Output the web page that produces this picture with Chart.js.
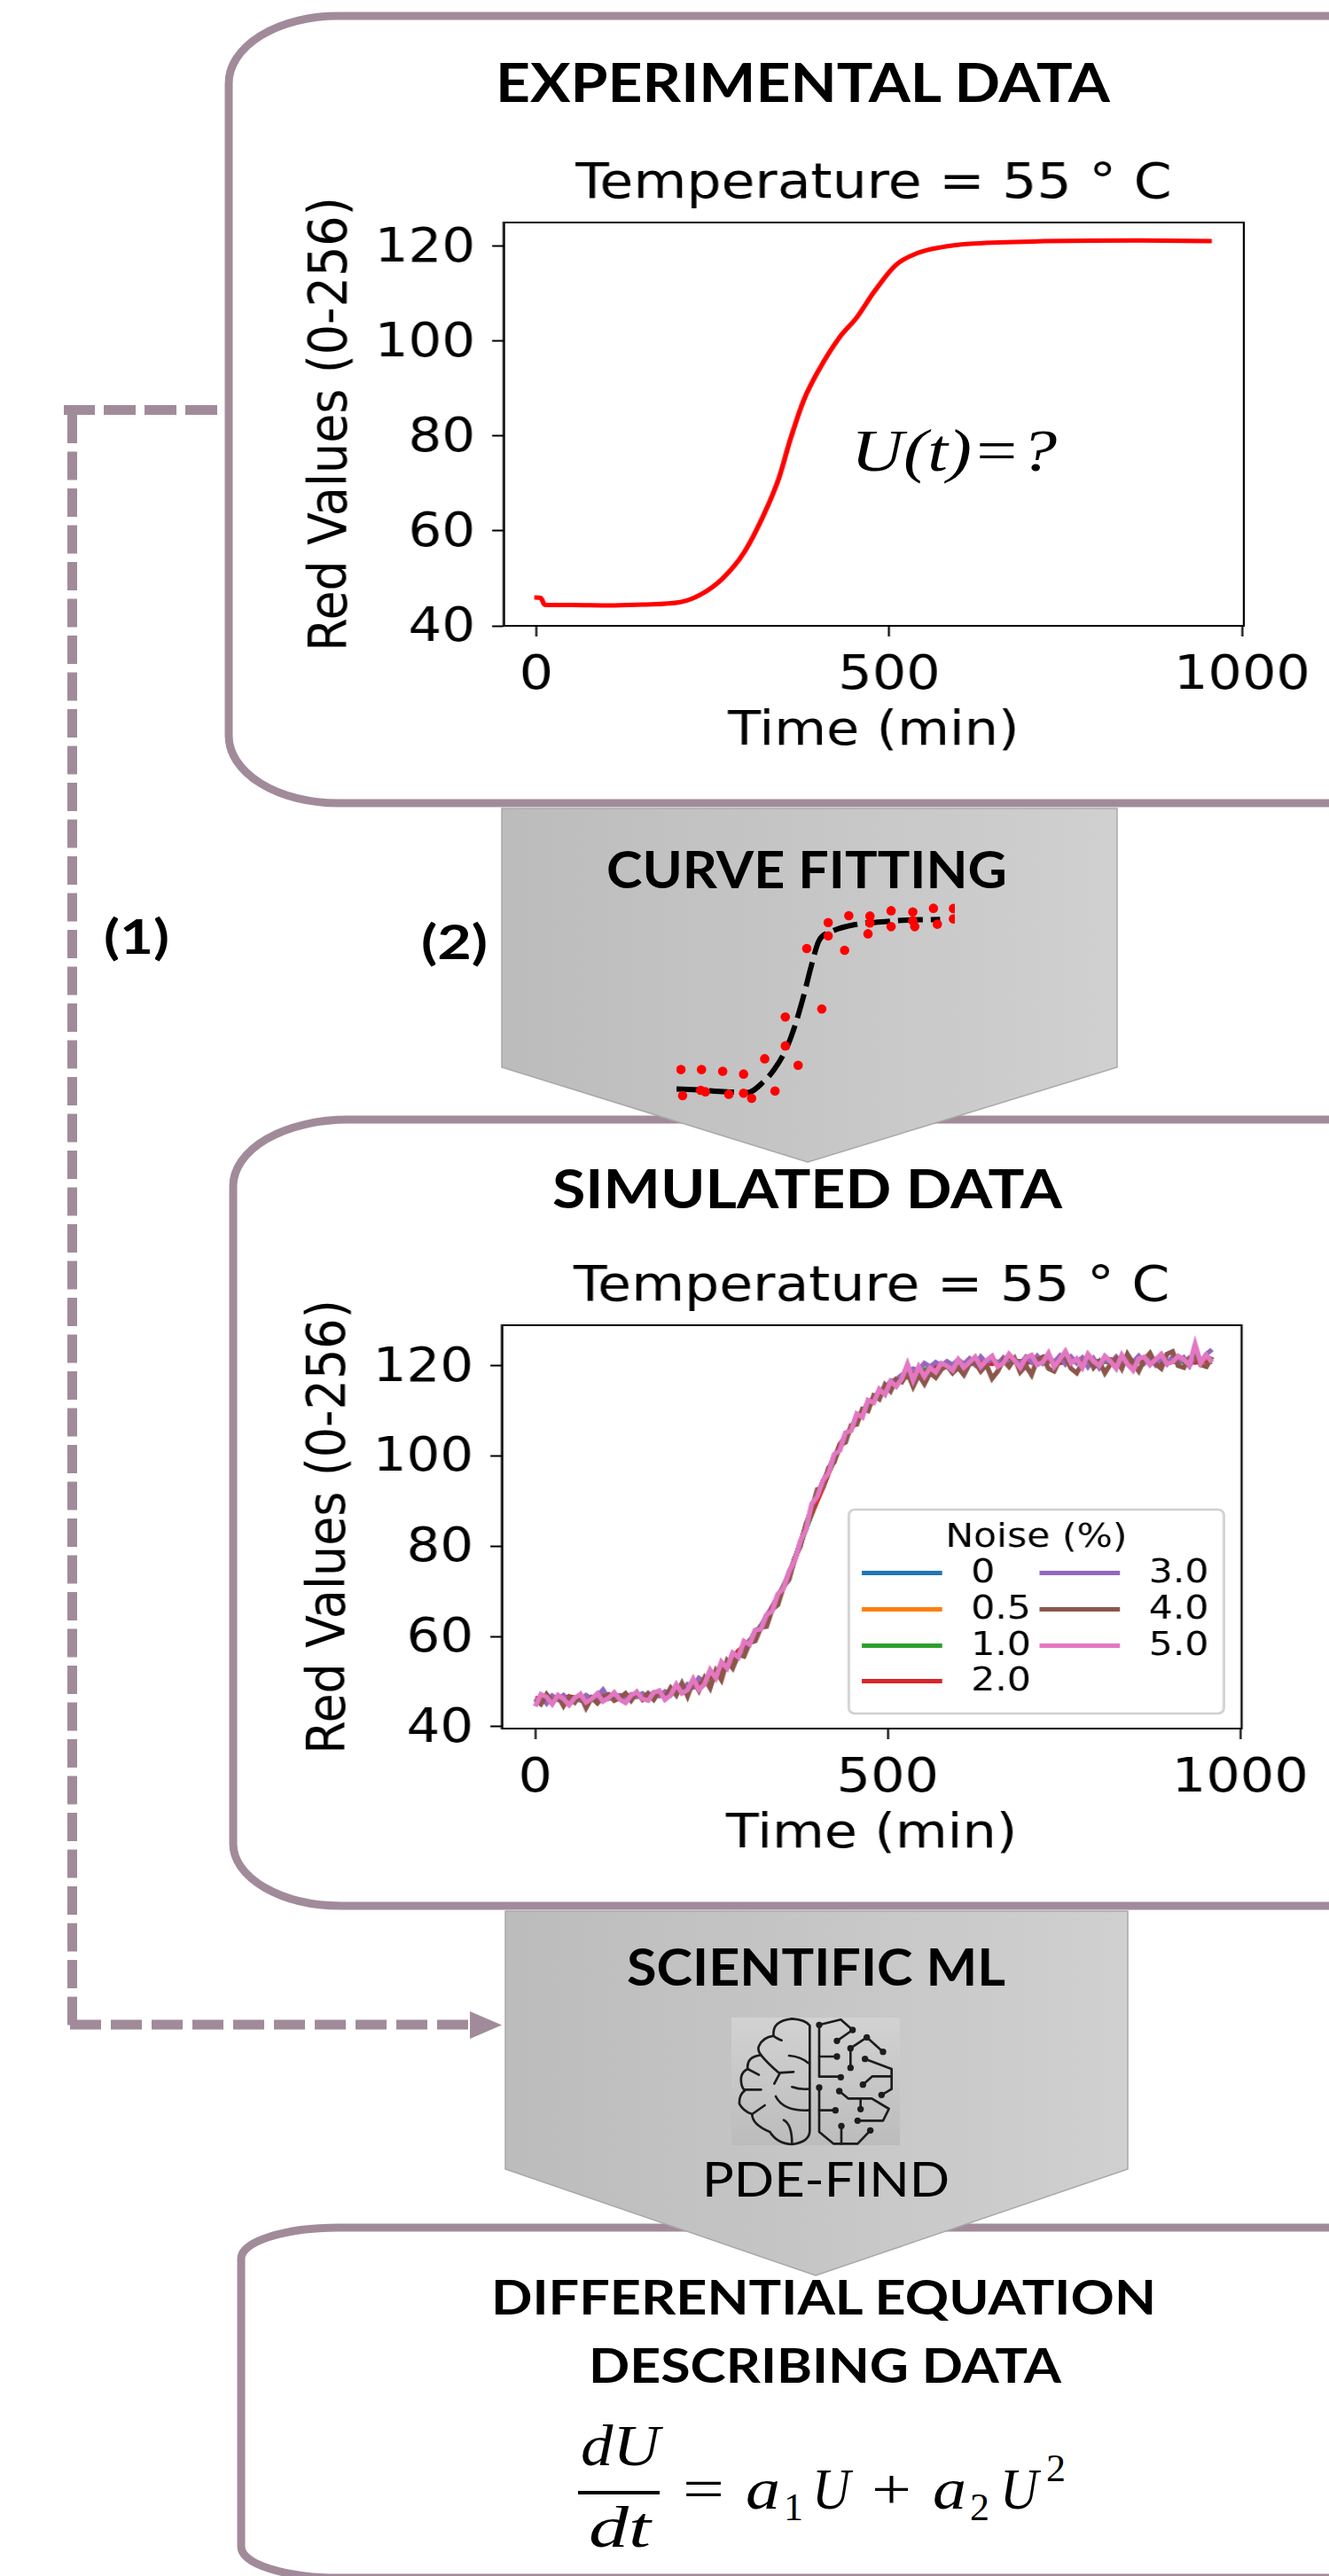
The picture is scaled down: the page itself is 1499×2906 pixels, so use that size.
<!DOCTYPE html>
<html>
<head>
<meta charset="utf-8">
<title>Workflow</title>
<script src="https://cdn.jsdelivr.net/npm/chart.js@4"></script>
<style>
  html, body { margin: 0; padding: 0; background: #fff; }
  #page { position: relative; width: 1499px; height: 2906px; overflow: hidden; }
  #page svg { position: absolute; left: 0; top: 0; }
  #page canvas { position: absolute; }
  /* the source figure is stretched sideways, so the two plots are too */
  .wide { transform: scaleX(1.12); transform-origin: 0 0; }
  .head { font-family: Lato, sans-serif; font-weight: 700; fill: #000; }
  .math { font-family: "Liberation Serif", serif; font-style: italic; fill: #000; }
</style>
</head>
<body>
<div id="page">
<svg width="1499" height="2906" viewBox="0 0 1499 2906">
  <defs>
    <linearGradient id="grey" x1="0" x2="1" y1="0" y2="0">
      <stop offset="0" stop-color="#bcbcbc"/><stop offset="1" stop-color="#d0d0d0"/>
    </linearGradient>
    <linearGradient id="iconBg" x1="0" x2="0" y1="0" y2="1">
      <stop offset="0" stop-color="#d2d2d2"/><stop offset="1" stop-color="#bcbcbc"/>
    </linearGradient>
  </defs>

  <!-- rounded boxes, right side runs off the page -->
  <g fill="#fff" stroke="#a18b9a" stroke-width="9">
    <path d="M1600 18 H381 A123 76 0 0 0 258 94 V830 A123 76 0 0 0 381 906 H1600"/>
    <path d="M1600 1263 H392 A129 75 0 0 0 263 1338 V2080 A122 70 0 0 0 385 2150 H1600"/>
    <path d="M1600 2513 H382 A110 35 0 0 0 272 2548 V2873 A110 35 0 0 0 382 2908 H1600"/>
  </g>

  <!-- dashed link (1) -->
  <g fill="none" stroke="#a18b9a" stroke-width="11">
    <path d="M245 462.5 H72" stroke-dasharray="36 10"/>
    <path d="M81.5 468 V2285" stroke-dasharray="32 9.5"/>
    <path d="M79 2284 H530" stroke-dasharray="35 11"/>
  </g>
  <path d="M530 2269 L566 2284.5 L530 2300 Z" fill="#a18b9a"/>

  <!-- process arrows -->
  <path d="M566 912 H1260 V1204 L911 1311 L566 1204 Z" fill="url(#grey)" stroke="#a8a8a8" stroke-width="1.5"/>
  <path d="M570 2156 H1272 V2447 L920 2567 L570 2447 Z" fill="url(#grey)" stroke="#a8a8a8" stroke-width="1.5"/>

  <!-- headings -->
  <text class="head" x="559" y="115" font-size="62" textLength="693" lengthAdjust="spacingAndGlyphs">EXPERIMENTAL DATA</text>
  <text class="head" x="684" y="1002" font-size="58" textLength="452" lengthAdjust="spacingAndGlyphs">CURVE FITTING</text>
  <text class="head" x="623" y="1363" font-size="62" textLength="575" lengthAdjust="spacingAndGlyphs">SIMULATED DATA</text>
  <text class="head" x="707" y="2240" font-size="57" textLength="427" lengthAdjust="spacingAndGlyphs">SCIENTIFIC ML</text>
  <text class="head" x="554" y="2611" font-size="54" textLength="750" lengthAdjust="spacingAndGlyphs">DIFFERENTIAL EQUATION</text>
  <text class="head" x="664" y="2688" font-size="54" textLength="533" lengthAdjust="spacingAndGlyphs">DESCRIBING DATA</text>
  <text class="head" x="117" y="1076" font-size="54" textLength="74" lengthAdjust="spacingAndGlyphs">(1)</text>
  <text class="head" x="475" y="1082" font-size="54" textLength="75" lengthAdjust="spacingAndGlyphs">(2)</text>
  <text x="792" y="2478" font-family="Lato, sans-serif" font-size="54" fill="#000" textLength="279" lengthAdjust="spacingAndGlyphs">PDE-FIND</text>

  <text class="math" x="960" y="531" font-size="68" textLength="232" lengthAdjust="spacingAndGlyphs">U(t)=?</text>

  <!-- brain icon, drawn in 3x crop units -->
  <g transform="translate(780 2240) scale(0.3333)">
    <rect x="135" y="108" width="570" height="432" fill="url(#iconBg)"/>
    <g fill="none" stroke="#1c1c1c" stroke-width="8" stroke-linecap="round" stroke-linejoin="round">
      <path d="M400 135 L400 490 Q400 530 340 537 Q290 535 265 495 Q205 470 205 435 Q175 425 162 400 Q160 370 180 355 Q165 340 168 310 Q172 290 190 282 Q185 240 235 235 Q222 220 228 205 Q240 175 278 170 Q270 120 340 112 Q385 115 400 135"/>
      <path d="M278 170 Q285 178 305 185"/><path d="M235 235 Q255 260 295 295 L345 292"/><path d="M298 298 L280 332"/>
      <path d="M190 282 L228 302"/><path d="M180 352 L235 352"/><path d="M205 435 L248 405"/>
      <path d="M330 237 Q370 240 395 262"/><path d="M340 343 Q365 352 395 350"/><path d="M285 375 Q310 425 395 422"/><path d="M312 455 Q340 470 340 535"/>
      <path d="M432 133 L505 115 L545 150 L492 187"/><path d="M432 133 L432 308 L505 308"/><path d="M432 240 L492 240"/>
      <path d="M538 212 L538 278"/><path d="M538 212 L593 175 L648 224"/>
      <path d="M587 248 L677 282 L677 350 L643 370"/><path d="M677 307 L612 307 L580 335"/>
      <path d="M432 345 L432 495 L480 535 L562 535 L605 490"/><path d="M432 422 L487 422"/><path d="M507 475 L507 535"/>
      <path d="M500 357 L530 382 L610 382 L668 417 L648 457 L562 457"/><path d="M572 382 L572 418"/>
    </g>
    <g fill="#1c1c1c">
      <circle cx="432" cy="133" r="11"/><circle cx="545" cy="150" r="11"/><circle cx="492" cy="187" r="11"/>
      <circle cx="492" cy="240" r="11"/><circle cx="505" cy="310" r="11"/><circle cx="538" cy="212" r="11"/>
      <circle cx="538" cy="278" r="11"/><circle cx="593" cy="175" r="11"/><circle cx="648" cy="224" r="11"/>
      <circle cx="587" cy="248" r="11"/><circle cx="643" cy="370" r="11"/><circle cx="580" cy="335" r="11"/>
      <circle cx="432" cy="345" r="11"/><circle cx="605" cy="490" r="11"/><circle cx="487" cy="422" r="11"/>
      <circle cx="507" cy="475" r="11"/><circle cx="500" cy="357" r="11"/><circle cx="562" cy="457" r="11"/>
      <circle cx="572" cy="418" r="11"/>
    </g>
  </g>

  <!-- equation -->
  <text class="math" x="655" y="2781" font-size="66" textLength="89" lengthAdjust="spacingAndGlyphs">dU</text>
  <rect x="652" y="2810" width="92" height="4" fill="#000"/>
  <text class="math" x="664" y="2873" font-size="66" textLength="70" lengthAdjust="spacingAndGlyphs">dt</text>
  <text x="770" y="2830" font-family="'Liberation Serif', serif" font-size="66" fill="#000" textLength="47" lengthAdjust="spacingAndGlyphs">=</text>
  <text class="math" x="841" y="2830" font-size="66" textLength="39" lengthAdjust="spacingAndGlyphs">a</text>
  <text x="884" y="2843" font-family="'Liberation Serif', serif" font-size="44" fill="#000">1</text>
  <text class="math" x="916" y="2830" font-size="66" textLength="43" lengthAdjust="spacingAndGlyphs">U</text>
  <text x="983" y="2830" font-family="'Liberation Serif', serif" font-size="66" fill="#000" textLength="45" lengthAdjust="spacingAndGlyphs">+</text>
  <text class="math" x="1052" y="2830" font-size="66" textLength="38" lengthAdjust="spacingAndGlyphs">a</text>
  <text x="1094" y="2843" font-family="'Liberation Serif', serif" font-size="44" fill="#000">2</text>
  <text class="math" x="1128" y="2830" font-size="66" textLength="43" lengthAdjust="spacingAndGlyphs">U</text>
  <text x="1180" y="2799" font-family="'Liberation Serif', serif" font-size="44" fill="#000">2</text>
</svg>

<canvas id="expChart" class="wide" width="1044" height="700" style="left:330px;top:160px"></canvas>
<canvas id="fitChart" width="314" height="230" style="left:763px;top:1015px"></canvas>
<canvas id="simChart" class="wide" width="1046" height="700" style="left:328px;top:1404px"></canvas>
</div>

<script>
/* ── Data ───────────────────────────────────────────────────────────────── */
const xTicks = [0, 500, 1000];
const yTicks = [40, 60, 80, 100, 120];

// experimental curve
const expTime = [-3, 6, 12, 50, 104, 150, 204, 234, 264, 294, 324, 344, 359, 379, 399, 429, 454, 479, 509, 539, 574, 614, 704, 854, 957];
const expRed  = [46, 45.9, 44.4, 44.4, 44.3, 44.5, 45, 46.7, 50, 55.4, 64, 71.3, 78.9, 87.6, 93.6, 100.7, 105, 110.5, 116, 118.5, 119.8, 120.5, 121, 121.2, 121.1];

// curve fitting sketch, in percent of the little plot
const fitX  = [0, 6.4, 18.1, 25.5, 31.4, 35.1, 39.4, 42.6, 45.7, 48.4, 51.1, 55.3, 64.9, 73.4, 80.9, 94.7];
const fitY  = [7.2, 6.8, 5.8, 5.4, 10.9, 16.7, 26.8, 38.4, 52.9, 67.4, 79.7, 84.1, 88, 89.1, 89.9, 90.3];
const dotsX = [1.6, 9, 16.6, 24.1, 31.7, 39.1, 39.1, 46.8, 54.5, 61.9, 69.5, 77.1, 84.9, 92.3, 99.5,
               2.2, 8.7, 10.4, 18.8, 24.1, 27, 35.4, 43.7, 52.2, 54.5, 60.4, 68.8, 69.5, 77.1, 84.9, 85.6, 93.7, 99.5];
const dotsY = [16.7, 16.7, 15.9, 14.5, 22, 28.3, 42.5, 76.1, 88.8, 92.2, 92, 94.6, 94, 95.8, 95.7,
               3.9, 6.5, 5.8, 4.6, 5.1, 2.6, 6.2, 18.8, 46.4, 82.3, 75.2, 83.3, 88.6, 86.8, 89.7, 86.8, 88, 90.6];

// simulated curves: the low-noise ones lie underneath, so a coarse read is enough
const coarseTime = [0, 24, 48, 72, 96, 120, 144, 168, 192, 216, 240, 264, 288, 312, 336, 360, 384, 408, 432, 456,
                    480, 504, 528, 552, 576, 600, 624, 648, 672, 696, 720, 744, 768, 792, 816, 840, 864, 888, 912, 936, 960];
const fineTime = [0, 8, 16, 24, 32, 40, 48, 56, 64, 72, 80, 88, 96, 104, 112, 120, 128, 136, 144, 152,
                  160, 168, 176, 184, 192, 200, 208, 216, 224, 232, 240, 248, 256, 264, 272, 280, 288, 296, 304, 312,
                  320, 328, 336, 344, 352, 360, 368, 376, 384, 392, 400, 408, 416, 424, 432, 440, 448, 456, 464, 472,
                  480, 488, 496, 504, 512, 520, 528, 536, 544, 552, 560, 568, 576, 584, 592, 600, 608, 616, 624, 632,
                  640, 648, 656, 664, 672, 680, 688, 696, 704, 712, 720, 728, 736, 744, 752, 760, 768, 776, 784, 792,
                  800, 808, 816, 824, 832, 840, 848, 856, 864, 872, 880, 888, 896, 904, 912, 920, 928, 936, 944, 952, 960];

const noise00 = [46, 46.2, 46.3, 46.4, 46.5, 46.6, 46.8, 47, 47.4, 48.3, 50, 52.8, 56.2, 60.5, 66, 73.7, 84, 93.5, 102, 108.2,
                 112.5, 115.7, 117.8, 119, 119.8, 120.3, 120.6, 120.8, 120.9, 121, 121, 121, 121, 121, 121, 121, 121, 121, 121, 121, 121];
const noise05 = [46.1, 46.1, 46.4, 46.3, 46.6, 46.5, 46.9, 47, 47.5, 48.2, 50.1, 52.7, 56.3, 60.4, 66.1, 73.6, 84.1, 93.4, 102.1, 108.1,
                 112.6, 115.6, 117.9, 118.9, 119.9, 120.2, 120.7, 120.7, 121, 120.9, 121.1, 120.9, 121.1, 121, 120.9, 121.1, 121, 120.9, 121.1, 121, 120.9];
const noise10 = [45.9, 46.3, 46.2, 46.6, 46.4, 46.8, 46.7, 47.2, 47.3, 48.5, 49.9, 52.9, 56, 60.7, 65.8, 73.9, 83.8, 93.7, 101.8, 108.4,
                 112.3, 115.9, 117.6, 119.2, 119.6, 120.5, 120.4, 121, 120.7, 121.2, 120.8, 121.2, 120.9, 121.1, 120.8, 121.2, 120.9, 121.1, 120.8, 121.2, 120.9];
const noise20 = [46.4, 45.8, 46.7, 46, 46.9, 46.2, 47.2, 46.7, 47.9, 48, 50.5, 52.4, 56.8, 60, 66.6, 73.2, 84.6, 93, 102.6, 107.8,
                 113, 115.2, 118.3, 118.6, 120.3, 119.9, 121.1, 120.4, 121.4, 120.6, 121.5, 120.6, 121.4, 120.7, 121.4, 120.6, 121.5, 120.6, 121.4, 120.7, 121.5];
const noise30 = [45.6, 46.8, 45.2, 46.9, 46, 47, 45.6, 46.4, 45.8, 47,
                 46.2, 46.8, 48.2, 46.2, 46.6, 47, 46.4, 47.2, 46.6, 47.4,
                 46.6, 47.6, 46.8, 47.8, 47, 48.6, 47.8, 49.4, 48.8, 50.8,
                 50, 52.2, 51.6, 54, 53.2, 56.2, 55.8, 58.4, 58.6, 61.4,
                 62, 64.8, 66.2, 69.2, 71, 74.2, 77.2, 80.8, 84.4, 88.6,
                 91.4, 94.4, 97, 100, 102, 104.8, 106, 109, 109.6, 112,
                 112.6, 114.6, 115, 116.6, 117, 118, 118.8, 119.4, 119, 120.6,
                 119.8, 120.8, 120, 121, 120.2, 121.4, 120.4, 121.6, 120.2, 122,
                 120.6, 121.6, 120.4, 121.8, 120.6, 121.4, 120.4, 122, 120.8, 122.2,
                 120.6, 122, 120.8, 122.2, 120.4, 122, 120.6, 121.8, 119.8, 121.6,
                 119.6, 121.6, 120.6, 122, 120.6, 122, 120.8, 122.2, 120.6, 122,
                 120.2, 121.8, 120.4, 122, 120.6, 121.8, 120, 122.2, 120.8, 122.6,
                 123.6];
const noise40 = [46, 45, 47.2, 45.6, 46.8, 44.6, 46.6, 45.4, 47, 44.2,
                 46.4, 45.2, 46.6, 47.2, 45.8, 46.4, 47.4, 45.8, 47.6, 46,
                 47.4, 46, 47.8, 46.4, 48.6, 47, 49.6, 46.8, 50.2, 48,
                 50.8, 48.6, 52.4, 50.4, 54.6, 53, 56, 55.6, 58.6, 59,
                 62, 62.2, 66, 67, 71, 72.6, 77.4, 80, 85, 88,
                 92.6, 93, 97.4, 98.6, 102.4, 103, 106.8, 107, 110.4, 110,
                 113.4, 112.6, 115.8, 114.4, 117, 116.4, 118.4, 115.4, 118, 116,
                 118.4, 117.4, 119.2, 120, 118.4, 119.6, 118, 120.4, 120.8, 118.8,
                 120.2, 117.2, 118.8, 121.2, 119.8, 121.6, 118.6, 120, 118, 121.4,
                 122, 119.4, 118.8, 121.4, 122, 119.4, 118.4, 120.6, 122.2, 119.6,
                 121, 118.4, 120.4, 121.6, 119.4, 122.6, 120.6, 118.8, 121.4, 122.8,
                 120.4, 119.4, 122.6, 123.2, 120, 119.6, 121.8, 122.4, 120.2, 119.8,
                 122];
const noise50 = [44.5, 47.2, 46.6, 45, 47, 46.2, 44.8, 46.4, 47.2, 45.4,
                 46.2, 47.4, 45.6, 46.4, 47.6, 46, 45.3, 47, 47.7, 46.2,
                 45.8, 47.6, 48, 46, 47, 49.4, 47.4, 48.2, 50.6, 48.2,
                 49.4, 52.6, 50.8, 54.4, 53, 56.4, 55.4, 59, 58.2, 61.4,
                 61.6, 64.8, 65.6, 69.4, 70.6, 74.4, 76.8, 81.2, 83.6, 89.4,
                 91, 94.6, 96.2, 100.4, 101.2, 105.2, 105.6, 109.4, 108.6, 112.4,
                 111.8, 114.8, 113.6, 116.6, 115.4, 117.2, 120.4, 116.8, 119.8, 117.6,
                 119.6, 118.6, 120.6, 120, 119, 121.4, 119.6, 120.8, 122, 119.8,
                 121.2, 122.2, 119.8, 120.6, 122.6, 121.2, 119.6, 121.8, 122.4, 120.2,
                 120.8, 122.8, 119.8, 121.4, 123.2, 120.6, 121.6, 119.6, 122.6, 121,
                 120, 122.2, 121, 119.4, 122.4, 120.4, 119, 121.6, 122, 120.2,
                 121.4, 122.6, 120.4, 120.8, 122.2, 121.4, 120.2, 124.8, 120.6, 122.4,
                 120.8];

const noiseLabels = ['0', '0.5', '1.0', '2.0', '3.0', '4.0', '5.0'];
const noiseColors = ['#1f77b4', '#ff7f0e', '#2ca02c', '#d62728', '#9467bd', '#8c564b', '#e377c2'];

/* ── Helpers ────────────────────────────────────────────────────────────── */
const STRETCH = 1.12;
const pairs = (xs, ys) => xs.map((x, i) => ({ x, y: ys[i] }));

// black frame round the axes, like matplotlib's spines
const framePlugin = {
  id: 'frame',
  afterDatasetsDraw(chart) {
    const a = chart.chartArea, c = chart.ctx;
    c.save();
    c.strokeStyle = '#000';
    c.lineWidth = 2;
    c.strokeRect(a.left, a.top, a.right - a.left, a.bottom - a.top);
    c.restore();
  },
};

// two column legend filled top down, which the stock legend does not lay out this way
const noiseLegend = {
  id: 'noiseLegend',
  afterDraw(chart) {
    const c = chart.ctx, a = chart.chartArea;
    const boxL = a.right - 20 / STRETCH - 423 / STRETCH;
    const boxT = a.top + 208, boxH = 230, boxW = 423 / STRETCH;
    c.save();
    c.fillStyle = 'rgba(255,255,255,.85)';
    c.strokeStyle = '#cfcfcf';
    c.lineWidth = 2.5;
    c.beginPath();
    c.roundRect(boxL, boxT, boxW, boxH, 6);
    c.fill();
    c.stroke();
    c.textBaseline = 'middle';
    c.fillStyle = '#000';
    c.font = '38px "DejaVu Sans"';
    c.textAlign = 'center';
    c.fillText('Noise (%)', boxL + boxW / 2, boxT + 32);
    c.textAlign = 'left';
    const rows = [1774, 1815, 1856, 1896, 1774, 1815, 1856];
    chart.data.datasets.forEach((d, i) => {
      const col = i < 4 ? 0 : 1;
      const lx = boxL + (col ? 192 : 13);
      const y = boxT + rows[i] - 1702.5;
      c.strokeStyle = d.borderColor;
      c.lineWidth = 5;
      c.beginPath();
      c.moveTo(lx, y);
      c.lineTo(lx + 81, y);
      c.stroke();
      c.fillStyle = '#000';
      c.fillText(d.label, lx + 110, y + 1);
    });
    c.restore();
  },
};

function plotOptions(yMin, yMax, xMin, xMax, yAxisWidth, rightPad) {
  const font = size => ({ family: '"DejaVu Sans"', size });
  const tickGrid = len => ({ display: true, drawOnChartArea: false, drawTicks: true, tickLength: len, tickColor: '#000', tickWidth: 2 });
  return {
    responsive: false,
    animation: false,
    layout: { padding: { top: 16, right: rightPad, left: 0, bottom: 0 } },
    plugins: {
      legend: { display: false },
      tooltip: { enabled: false },
      title: { display: true, fullSize: false, text: 'Temperature = 55 ° C', color: '#000', font: { ...font(55), weight: 'normal' }, padding: { top: 0, bottom: 9 } },
    },
    scales: {
      x: {
        type: 'linear', min: xMin, max: xMax,
        grid: tickGrid(12),
        border: { color: '#000', width: 2 },
        ticks: { color: '#000', font: font(54), padding: 13, autoSkip: false, maxRotation: 0, callback: v => String(v) },
        afterBuildTicks: s => { s.ticks = xTicks.map(value => ({ value })); },
        afterFit: s => { s.height = 154; },
        title: { display: true, text: 'Time (min)', color: '#000', font: font(54), padding: { top: 0, bottom: 2 } },
      },
      y: {
        type: 'linear', min: yMin, max: yMax,
        grid: tickGrid(11.6),
        border: { color: '#000', width: 2 },
        ticks: { color: '#000', font: font(53), padding: 17, labelOffset: 3, autoSkip: false, callback: v => String(v) },
        afterBuildTicks: s => { s.ticks = yTicks.map(value => ({ value })); },
        afterFit: s => { s.width = yAxisWidth; },
        title: { display: true, text: 'Red Values (0-256)', color: '#000', font: font(54), padding: { top: 8, bottom: 0 } },
      },
    },
  };
}

/* ── Charts ─────────────────────────────────────────────────────────────── */
new Chart(document.getElementById('expChart'), {
  type: 'line',
  data: {
    datasets: [{
      label: 'Red value', data: pairs(expTime, expRed),
      borderColor: '#ff0000', borderWidth: 5, pointRadius: 0,
      cubicInterpolationMode: 'monotone', fill: false,
    }],
  },
  options: plotOptions(40, 125, -46.5, 1002.5, 212.5, 86),
  plugins: [framePlugin],
});

new Chart(document.getElementById('fitChart'), {
  data: {
    datasets: [
      {
        type: 'line', label: 'Fit', data: pairs(fitX, fitY),
        borderColor: '#000', borderWidth: 6, borderDash: [28, 9], pointRadius: 0,
        cubicInterpolationMode: 'monotone', fill: false, order: 2,
      },
      {
        type: 'scatter', label: 'Samples', data: pairs(dotsX, dotsY),
        backgroundColor: '#ff0000', borderWidth: 0, pointRadius: 5.3, order: 1,
      },
    ],
  },
  options: {
    responsive: false,
    animation: false,
    layout: { padding: 0, autoPadding: false },
    plugins: { legend: { display: false }, tooltip: { enabled: false } },
    scales: {
      x: { type: 'linear', min: 0, max: 100, display: false },
      y: { type: 'linear', min: 0, max: 100, display: false },
    },
  },
});

const simTimes = [coarseTime, coarseTime, coarseTime, coarseTime, fineTime, fineTime, fineTime];
const simValues = [noise00, noise05, noise10, noise20, noise30, noise40, noise50];

new Chart(document.getElementById('simChart'), {
  type: 'line',
  data: {
    datasets: noiseLabels.map((label, i) => ({
      label, data: pairs(simTimes[i], simValues[i]),
      borderColor: noiseColors[i], borderWidth: 5, pointRadius: 0, tension: 0, fill: false,
      order: noiseLabels.length - i,
    })),
  },
  options: plotOptions(39.6, 129, -47.5, 1002, 212.5, 88.5),
  plugins: [framePlugin, noiseLegend],
});
</script>
</body>
</html>
